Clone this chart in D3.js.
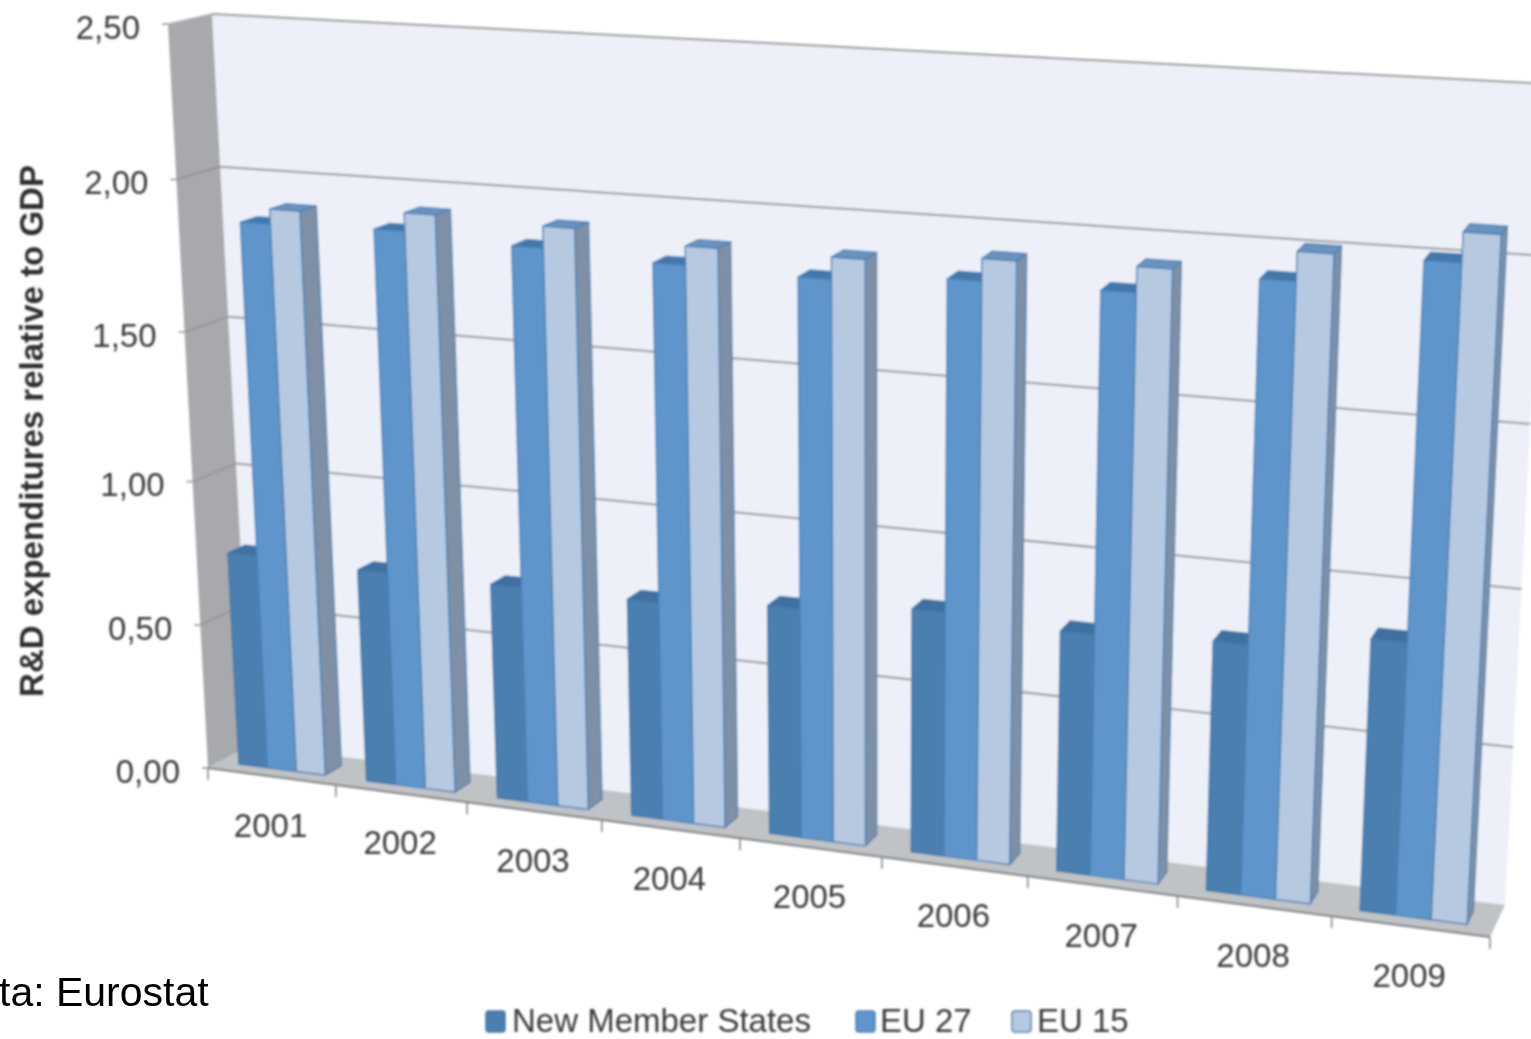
<!DOCTYPE html>
<html>
<head>
<meta charset="utf-8">
<style>html,body{margin:0;padding:0;background:#fff;overflow:hidden}svg{display:block}</style>
<script src="https://cdn.jsdelivr.net/npm/d3@7/dist/d3.min.js"></script>
</head>
<body>
<svg id="c" width="1531" height="1039"></svg>
<script>
const categories = ["2001","2002","2003","2004","2005","2006","2007","2008","2009"];
const seriesNames = ["New Member States","EU 27","EU 15"];
const newMemberStates = [0.74,0.73,0.73,0.73,0.76,0.80,0.78,0.80,0.86];
const eu27 = [1.86,1.87,1.85,1.83,1.82,1.85,1.85,1.92,2.01];
const eu15 = [1.91,1.93,1.92,1.89,1.89,1.92,1.93,2.01,2.10];
const yTicks = [0,0.5,1,1.5,2,2.5];
const yTitle = "R&D expenditures relative to GDP";
const sourceNote = "ta: Eurostat";

// Perspective planes: corners in picture space [u0v0,u1v0,u0v1,u1v1]
const frontQuad = [[208,768],[1490,937],[168,24],[1533,103]];
const backQuad  = [[251,745],[1505,905],[212,14],[1548,84]];

function homography(q){
  const [[x0,y0],[x1,y1],[x3,y3],[x2,y2]] = q;
  const dx1=x1-x2, dx2=x3-x2, sx=x0-x1+x2-x3;
  const dy1=y1-y2, dy2=y3-y2, sy=y0-y1+y2-y3;
  const den=dx1*dy2-dx2*dy1;
  const g=(sx*dy2-dx2*sy)/den, h=(dx1*sy-sx*dy1)/den;
  const a=x1-x0+g*x1, b=x3-x0+h*x3, c=x0;
  const d=y1-y0+g*y1, e=y3-y0+h*y3, f=y0;
  return (u,v)=>{const w=g*u+h*v+1; return [(a*u+b*v+c)/w,(d*u+e*v+f)/w];};
}
const hFront=homography(frontQuad), hBack=homography(backQuad);
const plane=(h,u,f)=>{const a=h(u,0),b=h(u,1);return [a[0]+(b[0]-a[0])*f,a[1]+(b[1]-a[1])*f];};
const P=(u,v,d)=>{const a=plane(hFront,u,v),b=plane(hBack,u,v);return [a[0]+(b[0]-a[0])*d,a[1]+(b[1]-a[1])*d];};

// scales
const uScale=d3.scaleBand().domain(categories).range([0,1]);
const barScale=d3.scaleBand().domain(seriesNames).range([0.15/9,0.83/9]);
const vScale=d3.scaleLinear().domain(yTicks).range([0,0.192,0.385,0.586,0.791,1]);
const valuesBySeries=[newMemberStates,eu27,eu15];
const depth=[0.28,0.68];
const colors={
 front:["#4c7fb0","#5e95cb","#b7c8e1"],
 top:["#3f70a2","#4477a9","#6a92bd"],
 side:["#3f70a2","#4477a9","#7f90a6"],
 stroke:["#4577a8","#4a82b9","#4a80b6"]
};
const svg=d3.select("#c");
const defs=svg.append("defs");
defs.append("filter").attr("id","soft").attr("x","-5%").attr("y","-5%").attr("width","110%").attr("height","110%")
  .append("feGaussianBlur").attr("stdDeviation",1.1);
const g=svg.append("g").attr("filter","url(#soft)");
const poly=d3.line();
const quad=(pts,fill,stroke,sw)=>g.append("path").attr("d",poly(pts)+"Z").attr("fill",fill)
  .attr("stroke",stroke||"none").attr("stroke-width",sw||0).attr("stroke-linejoin","round");

// walls
quad([P(0,0,1),P(1,0,1),P(1,1,1),P(0,1,1)],"#edf0f8");
quad([P(0,0,0),P(0,1,0),P(0,1,1),P(0,0,1)],"#a7a9ac");
quad([P(0,0,0),P(1,0,0),P(1,0,1),P(0,0,1)],"#c0c3c6");

// gridlines & value ticks
const gridColor="#999999";
yTicks.forEach(t=>{
  const v=vScale(t);
  if(t>0){
    g.append("path").attr("d",poly([P(0,v,1),P(1,v,1)])).attr("stroke",gridColor).attr("stroke-width",2).attr("fill","none");
    g.append("path").attr("d",poly([P(0,v,0),P(0,v,1)])).attr("stroke",t===2.5?"#b5b5b5":"#8f9092").attr("stroke-width",1.4).attr("fill","none");
  }
  const p=P(0,v,0);
  g.append("path").attr("d",poly([[p[0]-6,p[1]],p])).attr("stroke","#999").attr("stroke-width",1.6).attr("fill","none");
  g.append("text").attr("x",p[0]-28).attr("y",p[1]+6).attr("text-anchor","end").attr("dominant-baseline","middle")
    .attr("font-family","'Liberation Sans',Arial,sans-serif").attr("font-size",33).attr("fill","#3a3a3a")
    .text(d3.format(".2f")(t).replace(".",","));
});
// front floor edge and category ticks
g.append("path").attr("d",poly([P(0,0,0),P(1,0,0)])).attr("stroke","#7d7f82").attr("stroke-width",2).attr("fill","none");
d3.range(categories.length+1).forEach(i=>{
  const p=P(i/categories.length,0,0);
  g.append("path").attr("d",poly([p,[p[0],p[1]+12]])).attr("stroke","#8a8a8a").attr("stroke-width",1.6).attr("fill","none");
});

// bars
categories.forEach((cat,ci)=>{
  const u0=uScale(cat);
  seriesNames.forEach((s,si)=>{
    const a=u0+barScale(s), b=a+barScale.bandwidth(), v=vScale(valuesBySeries[si][ci]);
    const [d0,d1]=depth;
    quad([P(b,0,d0),P(b,0,d1),P(b,v,d1),P(b,v,d0)],colors.side[si],colors.stroke[si],1.2);
    quad([P(a,v,d0),P(b,v,d0),P(b,v,d1),P(a,v,d1)],colors.top[si],colors.stroke[si],1.2);
    quad([P(a,0,d0),P(b,0,d0),P(b,v,d0),P(a,v,d0)],colors.front[si],colors.stroke[si],1.4);
  });
  const lp=P(u0+uScale.bandwidth()/2,0,0);
  g.append("text").attr("x",lp[0]-1).attr("y",lp[1]+52).attr("text-anchor","middle").attr("dominant-baseline","middle")
    .attr("font-family","'Liberation Sans',Arial,sans-serif").attr("font-size",33).attr("fill","#3a3a3a").text(cat);
});

// axis title
g.append("text").attr("transform","translate(43,431) rotate(-90)").attr("text-anchor","middle")
  .attr("font-family","'Liberation Sans',Arial,sans-serif").attr("font-weight","bold").attr("font-size",33).attr("fill","#2e2e2e").text(yTitle);

// legend
const legendX=[486,856,1012], legendTextX=[512,880,1037];
seriesNames.forEach((s,i)=>{
  g.append("rect").attr("x",legendX[i]).attr("y",1011).attr("width",19).attr("height",21).attr("rx",3)
    .attr("fill",colors.front[i]).attr("stroke",colors.stroke[i]).attr("stroke-width",1.5);
  g.append("text").attr("x",legendTextX[i]).attr("y",1032)
    .attr("font-family","'Liberation Sans',Arial,sans-serif").attr("font-size",33).attr("fill","#3a3a3a").text(s);
});
// source note
svg.append("text").attr("x",-1).attr("y",1006).attr("font-family","'Liberation Sans',Arial,sans-serif")
  .attr("font-size",41).attr("fill","#000").text(sourceNote);
</script>
</body>
</html>
